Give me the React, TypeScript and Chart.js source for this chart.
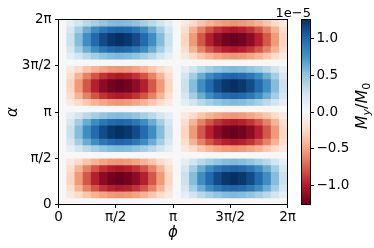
import { useEffect, useRef } from "react";
import { Chart, registerables } from "chart.js";

Chart.register(...registerables);

// ---------- data ----------
const GRID = 28; // 28 × 28 cells over [0, 2π] × [0, 2π]
const TWO_PI = 2 * Math.PI;
const STEP = TWO_PI / GRID;

// relative strength of each φ column (left → right)
const PHI_PROFILE = [
  0, 0.22, 0.43, 0.62, 0.78, 0.9, 0.97, 1.0, 0.97, 0.9, 0.78, 0.62, 0.43, 0.22,
  0, -0.22, -0.43, -0.62, -0.78, -0.9, -0.97, -1.0, -0.97, -0.9, -0.78, -0.62, -0.43, -0.22,
];
// relative strength / sign of each α row (bottom → top)
const ALPHA_PROFILE = [
  0, -0.43, -0.78, -0.97, -0.97, -0.78, -0.43,
  0, 0.43, 0.78, 0.97, 0.97, 0.78, 0.43,
  0, -0.43, -0.78, -0.97, -0.97, -0.78, -0.43,
  0, 0.43, 0.78, 0.97, 0.97, 0.78, 0.43,
];
const AMPLITUDE = 1.3; // in units of 1e-5
const V_LIMIT = 1.26; // colour scale limits ±1.26e-5

const AXIS_TICKS = [0, Math.PI / 2, Math.PI, (3 * Math.PI) / 2, 2 * Math.PI];
const AXIS_LABELS = ["0", "π/2", "π", "3π/2", "2π"];
const CBAR_TICKS = [-1, -0.5, 0, 0.5, 1];
const CBAR_LABELS = ["−1.0", "−0.5", "0.0", "0.5", "1.0"];

// ---------- styling ----------
const FONT = "'DejaVu Sans', sans-serif";
const TICK_SIZE = 13.5;
const RDBU = [
  "#67001f", "#b2182b", "#d6604d", "#f4a582", "#fddbc7", "#f7f7f7",
  "#d1e5f0", "#92c5de", "#4393c3", "#2166ac", "#053061",
];

function hexToRgb(h: string) {
  return [parseInt(h.slice(1, 3), 16), parseInt(h.slice(3, 5), 16), parseInt(h.slice(5, 7), 16)];
}
const RDBU_RGB = RDBU.map(hexToRgb);

function cmap(t: number) {
  const c = Math.min(1, Math.max(0, t));
  const pos = c * (RDBU_RGB.length - 1);
  const k = Math.min(RDBU_RGB.length - 2, Math.floor(pos));
  const f = pos - k;
  const a = RDBU_RGB[k];
  const b = RDBU_RGB[k + 1];
  const r = Math.round(a[0] + (b[0] - a[0]) * f);
  const g = Math.round(a[1] + (b[1] - a[1]) * f);
  const bl = Math.round(a[2] + (b[2] - a[2]) * f);
  return `rgb(${r},${g},${bl})`;
}

const spinePlugin = {
  id: "spines",
  afterDraw(chart: any) {
    const { ctx, chartArea } = chart;
    ctx.save();
    ctx.strokeStyle = "#000";
    ctx.lineWidth = 1;
    ctx.strokeRect(chartArea.left, chartArea.top, chartArea.right - chartArea.left, chartArea.bottom - chartArea.top);
    ctx.restore();
  },
};

const colorbarPlugin = {
  id: "colorbar",
  beforeDatasetsDraw(chart: any) {
    const { ctx, chartArea } = chart;
    const ys = chart.scales.y;
    const yTop = ys.getPixelForValue(V_LIMIT);
    const yBot = ys.getPixelForValue(-V_LIMIT);
    const grad = ctx.createLinearGradient(0, yBot, 0, yTop);
    for (let k = 0; k <= 40; k++) {
      grad.addColorStop(k / 40, cmap(k / 40));
    }
    ctx.save();
    ctx.fillStyle = grad;
    ctx.fillRect(chartArea.left, yTop, chartArea.right - chartArea.left, yBot - yTop);
    ctx.restore();
  },
  afterDraw(chart: any) {
    const { ctx, chartArea } = chart;
    ctx.save();
    ctx.strokeStyle = "#000";
    ctx.lineWidth = 1;
    ctx.strokeRect(chartArea.left, chartArea.top, chartArea.right - chartArea.left, chartArea.bottom - chartArea.top);

    // offset text
    ctx.fillStyle = "#000";
    ctx.font = `13px ${FONT}`;
    ctx.textAlign = "right";
    ctx.textBaseline = "alphabetic";
    ctx.fillText("1e−5", chartArea.right + 0.5, 16.5);

    // colour bar label M_y / M_0, rotated
    const big = 16;
    const small = 11.2;
    const parts = [
      { t: "M", size: big, style: "italic", dy: 0 },
      { t: "y", size: small, style: "italic", dy: 3.5 },
      { t: "/", size: big, style: "normal", dy: 0 },
      { t: "M", size: big, style: "italic", dy: 0 },
      { t: "0", size: small, style: "normal", dy: 3.5 },
    ];
    let total = 0;
    const widths = parts.map((p) => {
      ctx.font = `${p.style} ${p.size}px ${FONT}`;
      const w = ctx.measureText(p.t).width;
      total += w;
      return w;
    });
    ctx.translate(361, 106);
    ctx.rotate(-Math.PI / 2);
    ctx.textAlign = "left";
    let x = -total / 2;
    parts.forEach((p, i) => {
      ctx.font = `${p.style} ${p.size}px ${FONT}`;
      ctx.fillText(p.t, x, 5.8 + p.dy);
      x += widths[i];
    });
    ctx.restore();
  },
};

export default function App() {
  const mainRef = useRef<HTMLCanvasElement>(null);
  const cbarRef = useRef<HTMLCanvasElement>(null);

  useEffect(() => {
    const cells: { x: number; y: [number, number] }[] = [];
    const colors: string[] = [];
    for (let j = 0; j < ALPHA_PROFILE.length; j++) {
      for (let i = 0; i < PHI_PROFILE.length; i++) {
        const v = AMPLITUDE * ALPHA_PROFILE[j] * PHI_PROFILE[i];
        cells.push({ x: (i + 0.5) * STEP, y: [j * STEP, (j + 1) * STEP] });
        colors.push(cmap((v + V_LIMIT) / (2 * V_LIMIT)));
      }
    }

    const tickFont = { family: FONT, size: TICK_SIZE };
    const main = new Chart(mainRef.current!, {
      type: "bar",
      data: {
        datasets: [
          {
            data: cells as any,
            backgroundColor: colors,
            borderWidth: 0,
            barPercentage: 1,
            categoryPercentage: 1,
          },
        ],
      },
      options: {
        responsive: false,
        animation: false,
        devicePixelRatio: 1,
        layout: { padding: { top: 19.5, right: 86.5, left: 0, bottom: 0 } },
        plugins: { legend: { display: false }, tooltip: { enabled: false } },
        scales: {
          x: {
            type: "linear",
            min: 0,
            max: TWO_PI,
            offset: false,
            afterBuildTicks: (s: any) => {
              s.ticks = AXIS_TICKS.map((value) => ({ value }));
            },
            afterFit: (s: any) => {
              s.height = 43.5;
            },
            ticks: {
              callback: (_v: any, i: number) => AXIS_LABELS[i],
              font: tickFont,
              color: "#000",
              maxRotation: 0,
              autoSkip: false,
              padding: 1,
            },
            grid: { drawOnChartArea: false, tickLength: 3.5, tickColor: "#000", tickWidth: 1, offset: false },
            border: { display: false },
            title: {
              display: true,
              text: "ϕ",
              color: "#000",
              font: { family: FONT, size: 15, style: "italic" },
              padding: { top: 0, bottom: 6 },
            },
          },
          y: {
            type: "linear",
            min: 0,
            max: TWO_PI,
            afterBuildTicks: (s: any) => {
              s.ticks = AXIS_TICKS.map((value) => ({ value }));
            },
            afterFit: (s: any) => {
              s.width = 58.5;
            },
            ticks: {
              callback: (_v: any, i: number) => AXIS_LABELS[i],
              font: tickFont,
              color: "#000",
              autoSkip: false,
              padding: 3.3,
            },
            grid: { drawOnChartArea: false, tickLength: 3.5, tickColor: "#000", tickWidth: 1 },
            border: { display: false },
            title: {
              display: true,
              text: "α",
              color: "#000",
              font: { family: FONT, size: 15, style: "italic" },
              padding: { top: 4, bottom: 0 },
            },
          },
        },
      },
      plugins: [spinePlugin],
    });

    const cbar = new Chart(cbarRef.current!, {
      type: "bar",
      data: { datasets: [] },
      options: {
        responsive: false,
        animation: false,
        devicePixelRatio: 1,
        layout: { padding: { top: 19.5, right: 0, left: 301.5, bottom: 43.5 } },
        plugins: { legend: { display: false }, tooltip: { enabled: false } },
        scales: {
          x: { type: "linear", display: false, min: 0, max: 1 },
          y: {
            type: "linear",
            position: "right",
            min: -V_LIMIT,
            max: V_LIMIT,
            afterBuildTicks: (s: any) => {
              s.ticks = CBAR_TICKS.map((value) => ({ value }));
            },
            afterFit: (s: any) => {
              s.width = 63.5;
            },
            ticks: {
              callback: (_v: any, i: number) => CBAR_LABELS[i],
              font: tickFont,
              color: "#000",
              autoSkip: false,
              padding: 2.5,
            },
            grid: { drawOnChartArea: false, tickLength: 3.5, tickColor: "#000", tickWidth: 1 },
            border: { display: false },
          },
        },
      },
      plugins: [colorbarPlugin],
    });

    return () => {
      main.destroy();
      cbar.destroy();
    };
  }, []);

  return (
    <div style={{ position: "absolute", left: 0, top: 0, width: 374, height: 248, background: "#fff" }}>
      <canvas ref={mainRef} width={374} height={248} style={{ position: "absolute", left: 0, top: 0, width: 374, height: 248 }} />
      <canvas ref={cbarRef} width={374} height={248} style={{ position: "absolute", left: 0, top: 0, width: 374, height: 248 }} />
    </div>
  );
}
